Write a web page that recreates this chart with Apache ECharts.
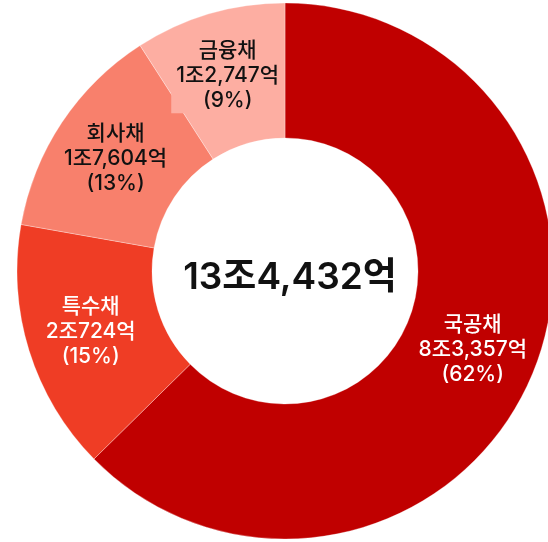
<!DOCTYPE html>
<html>
<head>
<meta charset="utf-8">
<script src="https://cdn.jsdelivr.net/npm/echarts@6/dist/echarts.min.js"></script>
<style>
  html, body { margin: 0; padding: 0; background: #fff; }
  #chart { width: 548px; height: 542px; }
</style>
</head>
<body>
<div id="chart"></div>
<script>
// 채권 종류별 비중 (슬라이스는 반올림한 % 기준)
const names = ["국공채", "특수채", "회사채", "금융채"];
const percents = [62, 15, 13, 9];
const amountText = ["8조3,357억", "2조724억", "1조7,604억", "1조2,747억"];
const totalText = "13조4,432억";

const colors = ["#c00000", "#ef3d25", "#f8806c", "#fdaea2"];
const labelColors = ["#fff", "#fff", "#111", "#111"];

const font = "Inter, 'Noto Sans CJK KR', sans-serif";

const chart = echarts.init(document.getElementById("chart"));

chart.setOption({
  animation: false,
  title: {
    text: totalText,
    left: 285,
    top: 273,
    textAlign: "center",
    textVerticalAlign: "middle",
    textStyle: {
      fontFamily: font,
      fontSize: 37,
      fontWeight: 600,
      color: "#111",
    },
  },
  series: [
    {
      type: "pie",
      center: [285, 271],
      radius: [133, 268],
      startAngle: 90,
      clockwise: true,
      silent: true,
      itemStyle: {
        borderColor: "rgba(255,255,255,0.6)",
        borderWidth: 0.5,
      },
      label: {
        position: "inside",
        fontFamily: font,
        fontSize: 21,
        fontWeight: 500,
        lineHeight: 25,
        align: "center",
      },
      labelLine: { show: false },
      data: names.map((n, i) => ({
        name: n,
        value: percents[i],
        itemStyle: { color: colors[i] },
        label: {
          color: labelColors[i],
          formatter: n + "\n" + amountText[i] + "\n(" + percents[i] + "%)",
          // 금융채 라벨은 슬라이스 색 배경이 옆 조각을 살짝 덮는다
          backgroundColor: i === 3 ? colors[3] : "transparent",
          padding: i === 3 ? [0, 5] : 0,
        },
      })),
    },
  ],
});
</script>
</body>
</html>
